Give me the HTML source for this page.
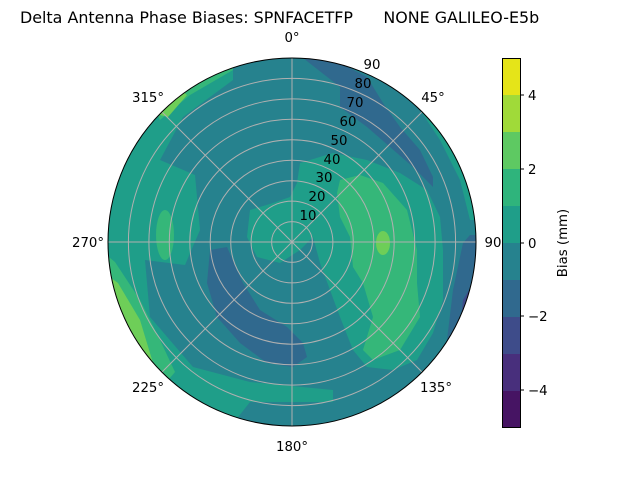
<!DOCTYPE html>
<html><head><meta charset="utf-8"><style>
html,body{margin:0;padding:0;background:#fff;}
svg{display:block;font-family:"DejaVu Sans","Liberation Sans",sans-serif;}
</style></head><body>
<svg width="640" height="480" viewBox="0 0 640 480" xmlns="http://www.w3.org/2000/svg">
<defs><clipPath id="c"><circle cx="292" cy="242" r="184"/></clipPath></defs>
<text x="20" y="23" font-size="15.9" fill="#000" style="white-space:pre" xml:space="preserve">Delta Antenna Phase Biases: SPNFACETFP      NONE GALILEO-E5b</text>
<g clip-path="url(#c)">
<rect x="100" y="50" width="390" height="390" fill="#26828e"/>
<path d="M233,40 L233,80 L183,117 L160,160 L195,175 L200,230 L185,265 L145,260 L150,317 L193,367 L250,382 L333,390 L333,402 L250,402 L220,440 L90,440 L90,40 Z" fill="#1f9e89"/>
<path d="M160,60 L200,66 L233,62 L233,70 L190,95 L160,120 L140,80 Z" fill="#35b779"/>
<path d="M150,90 L175,85 L187,95 L168,117 L140,110 Z" fill="#6ece58"/>
<path d="M100,250 L115,262 L140,300 L160,340 L175,372 L160,390 L100,390 Z" fill="#35b779"/>
<path d="M100,270 L118,283 L140,320 L153,363 L100,380 Z" fill="#6ece58"/>
<ellipse cx="165" cy="235" rx="9" ry="25" fill="#35b779"/>
<path d="M390,60 L400,80 L420,110 L440,140 L460,180 L470,220 L500,220 L500,60 Z" fill="#1f9e89"/>
<path d="M440,95 L455,140 L468,180 L500,180 L500,95 Z" fill="#35b779"/>
<path d="M303,55 L303,58 L340,87 L340,107 L367,127 L390,147 L413,167 L433,187 L433,177 L420,150 L400,127 L383,103 L367,77 L340,63 L330,50 Z" fill="#30698e"/>
<path d="M300,163 L333,153 L367,160 L400,173 L427,190 L440,217 L443,250 L443,300 L433,333 L417,360 L393,370 L367,367 L353,350 L340,317 L330,290 L320,263 L313,237 L300,250 L280,263 L257,257 L247,237 L250,210 L273,203 L290,197 L297,183 Z" fill="#1f9e89"/>
<path d="M340,180 L360,175 L383,183 L407,210 L417,250 L417,283 L420,317 L400,350 L373,360 L363,350 L373,317 L363,283 L353,267 L350,237 L340,217 L337,193 Z" fill="#35b779"/>
<ellipse cx="383" cy="243" rx="7" ry="12" fill="#6ece58"/>
<path d="M210,250 L227,247 L243,283 L260,310 L287,327 L303,343 L307,357 L293,367 L267,363 L240,343 L217,317 L207,283 Z" fill="#30698e"/>
<path d="M470,235 L463,243 L453,290 L447,340 L430,380 L415,400 L480,430 L490,235 Z" fill="#30698e"/>
<path d="M475,280 L463,300 L458,350 L440,400 L490,400 L490,280 Z" fill="#3e4a89"/>
</g>
<g stroke="#b0b0b0" stroke-width="1" fill="none">
<circle cx="292" cy="242" r="20.4"/><circle cx="292" cy="242" r="40.9"/><circle cx="292" cy="242" r="61.3"/>
<circle cx="292" cy="242" r="81.8"/><circle cx="292" cy="242" r="102.2"/><circle cx="292" cy="242" r="122.7"/>
<circle cx="292" cy="242" r="143.1"/><circle cx="292" cy="242" r="163.6"/>
<line x1="292" y1="58" x2="292" y2="426"/><line x1="108" y1="242" x2="476" y2="242"/>
<line x1="161.9" y1="111.9" x2="422.1" y2="372.1"/><line x1="422.1" y1="111.9" x2="161.9" y2="372.1"/>
</g>
<circle cx="292" cy="242" r="184" fill="none" stroke="#000" stroke-width="1"/>
<g font-size="13.3" fill="#000" text-anchor="middle">
<text x="292" y="42">0°</text><text x="433" y="102">45°</text><text x="436" y="392">135°</text>
<text x="292" y="451">180°</text><text x="148" y="392">225°</text><text x="88" y="247">270°</text>
<text x="148" y="102">315°</text><text x="493" y="247">90</text>
<text x="308" y="220">10</text><text x="317" y="201">20</text><text x="324" y="182">30</text>
<text x="332" y="164">40</text><text x="339" y="145">50</text><text x="348" y="126">60</text>
<text x="355" y="107">70</text><text x="363" y="88">80</text><text x="372" y="69">90</text>
</g>
<g>
<rect x="502" y="58" width="18" height="37" fill="#e5e419"/>
<rect x="502" y="95" width="18" height="37" fill="#a0da39"/>
<rect x="502" y="132" width="18" height="37" fill="#5ec962"/>
<rect x="502" y="169" width="18" height="37" fill="#2fb47c"/>
<rect x="502" y="206" width="18" height="37" fill="#1f9e89"/>
<rect x="502" y="243" width="18" height="37" fill="#26828e"/>
<rect x="502" y="280" width="18" height="37" fill="#30698e"/>
<rect x="502" y="317" width="18" height="37" fill="#3e4c8a"/>
<rect x="502" y="354" width="18" height="37" fill="#482f7c"/>
<rect x="502" y="391" width="18" height="36.5" fill="#461463"/>
<rect x="502.5" y="58.5" width="18" height="369" fill="none" stroke="#000" stroke-width="1"/>
<g stroke="#000" stroke-width="1">
<line x1="520" y1="95" x2="524" y2="95"/><line x1="520" y1="169" x2="524" y2="169"/>
<line x1="520" y1="243" x2="524" y2="243"/><line x1="520" y1="316" x2="524" y2="316"/>
<line x1="520" y1="390" x2="524" y2="390"/>
</g>
<g font-size="13.3" fill="#000">
<text x="528" y="100">4</text><text x="528" y="174">2</text><text x="528" y="248">0</text>
<text x="528" y="321">−2</text><text x="528" y="395">−4</text>
</g>
<text transform="translate(567,243) rotate(-90)" font-size="13.3" text-anchor="middle">Bias (mm)</text>
</g>
</svg>
</body></html>
